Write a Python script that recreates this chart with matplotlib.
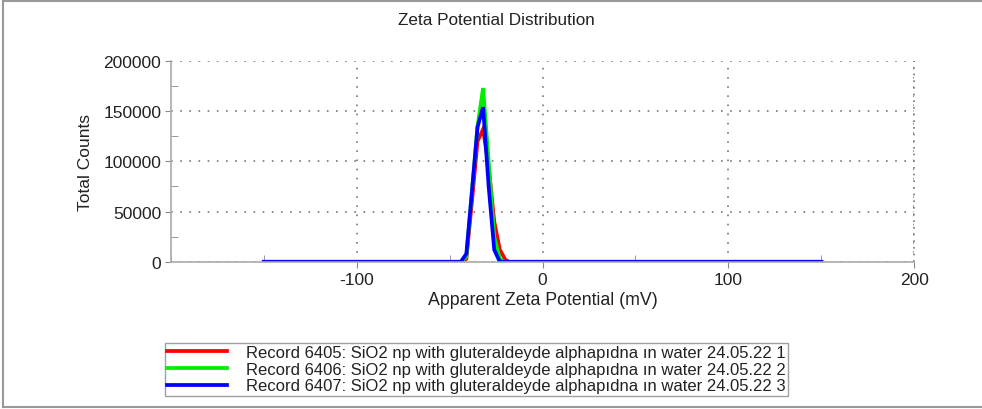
import matplotlib
matplotlib.use("Agg")
import matplotlib.pyplot as plt
from matplotlib.lines import Line2D
from matplotlib.ticker import MultipleLocator

plt.rcParams['font.family'] = ['Liberation Sans', 'DejaVu Sans']
plt.rcParams['axes.unicode_minus'] = False

# zeta potential (mV) and total counts for each record
zeta_6405 = [-150, -44, -41, -38, -35, -32, -29, -26, -23, -20, -18, 150]
counts_6405 = [0, 0, 3000, 60000, 120000, 132000, 95000, 40000, 12000, 2000, 0, 0]

zeta_6406 = [-150, -44, -41, -38, -35, -32, -29, -26, -23, -21, 150]
counts_6406 = [0, 0, 5000, 70000, 135000, 173000, 100000, 25000, 3000, 0, 0]

zeta_6407 = [-150, -44, -41, -38, -35, -32, -29, -26, -23, 150]
counts_6407 = [0, 0, 8000, 70000, 134000, 154000, 75000, 12000, 0, 0]

labels = [
    "Record 6405: SiO2 np with gluteraldeyde alphapıdna ın water 24.05.22 1",
    "Record 6406: SiO2 np with gluteraldeyde alphapıdna ın water 24.05.22 2",
    "Record 6407: SiO2 np with gluteraldeyde alphapıdna ın water 24.05.22 3",
]
colors = ["#ff0000", "#00ee00", "#0000ff"]

fig = plt.figure(figsize=(9.82, 4.10), dpi=100)
ax = fig.add_axes([0.174, 0.359, 0.757, 0.49])

series = [(zeta_6405, counts_6405), (zeta_6406, counts_6406), (zeta_6407, counts_6407)]
for (x, y), c, lab in zip(series, colors, labels):
    ax.plot(x, y, color=c, lw=2.7, label=lab, solid_joinstyle='miter')

ax.set_xlim(-200, 200)
ax.set_ylim(0, 200000)
ax.set_xticks([-100, 0, 100, 200])
ax.set_yticks([0, 50000, 100000, 150000, 200000])
ax.xaxis.set_minor_locator(MultipleLocator(50))
ax.yaxis.set_minor_locator(MultipleLocator(25000))
ax.grid(True, which='major', color='#777777', linestyle=(0, (1, 4.5)), lw=1.2)
ax.axvline(200, color='#777777', linestyle=(0, (1, 3)), lw=1.2, clip_on=False)

for s in ['top', 'right']:
    ax.spines[s].set_visible(False)
for s in ['left', 'bottom']:
    ax.spines[s].set_color('#aaaaaa')
    ax.spines[s].set_linewidth(1.2)

ax.tick_params(which='major', direction='out', length=4, color='#888888',
               labelsize=12.5, labelcolor='#222222', pad=3)
ax.tick_params(which='minor', direction='in', length=5, color='#888888')

ax.set_xlabel("Apparent Zeta Potential (mV)", fontsize=12.8, color='#222222', labelpad=3)
ax.set_ylabel("Total Counts", fontsize=12.5, color='#222222', labelpad=7)
fig.text(0.505, 0.95, "Zeta Potential Distribution", ha='center', va='center',
         fontsize=12.3, color='#222222')

handles = [Line2D([], [], color=c, lw=2.7) for c in colors]
leg = fig.legend(handles, labels, loc='upper left', bbox_to_anchor=(0.168, 0.162),
                 bbox_transform=fig.transFigure, fontsize=12, frameon=True,
                 fancybox=False, handlelength=3.6, handletextpad=1.1,
                 labelspacing=0.1, borderpad=0.15, borderaxespad=0)
leg.get_frame().set_edgecolor('#888888')
leg.get_frame().set_linewidth(1.0)
for t in leg.get_texts():
    t.set_color('#222222')

# outer frame lines of the exported image
fig.add_artist(Line2D([0.003, 1.0], [0.995, 0.995], transform=fig.transFigure, color='#999999', lw=1.5))
fig.add_artist(Line2D([0.003, 0.003], [0.005, 0.995], transform=fig.transFigure, color='#999999', lw=1.5))
fig.add_artist(Line2D([0.003, 1.0], [0.005, 0.005], transform=fig.transFigure, color='#999999', lw=1.5))

fig.savefig("out.png", dpi=100)
